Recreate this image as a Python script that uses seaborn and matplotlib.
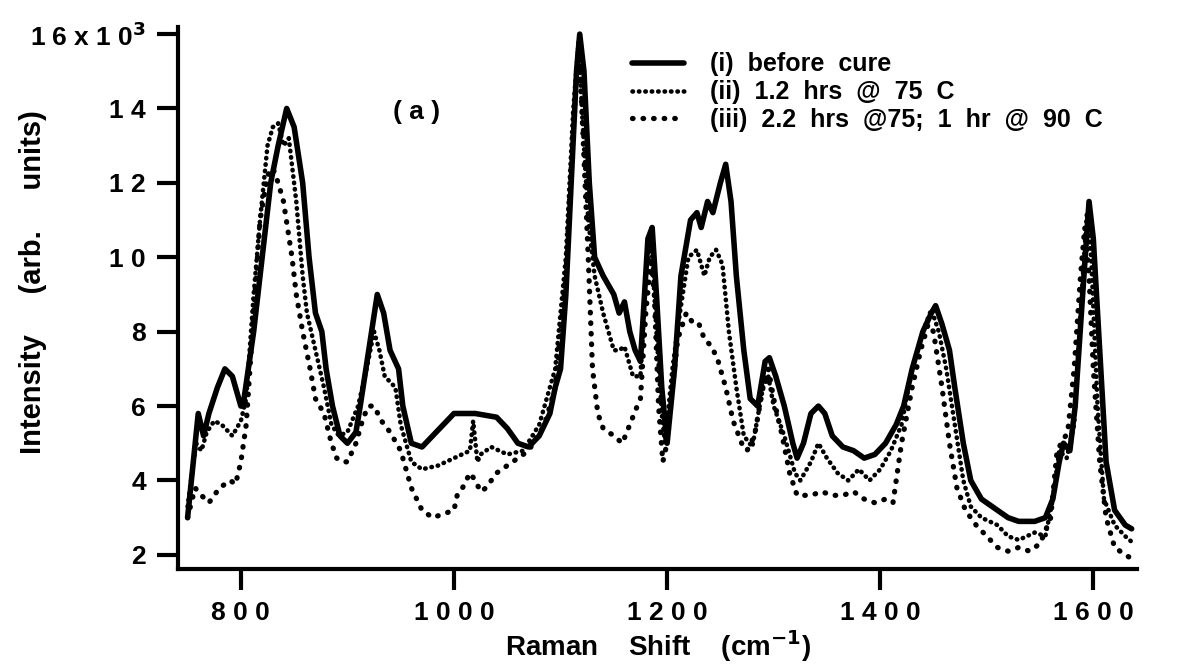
import matplotlib
matplotlib.use("Agg")
import matplotlib.pyplot as plt
import seaborn as sns
import numpy as np

# ---- data (Raman shift cm^-1, intensity in 10^3 arb. units) ----
x_i = [750, 760, 765, 770, 778, 785, 792, 800, 802, 812, 820, 828, 835, 843, 850, 858, 864, 870, 876, 880,
       886, 893, 900, 908, 912, 920, 928, 934, 940, 948, 952, 960, 970, 980, 990, 1000, 1020, 1040, 1050,
       1060, 1070, 1080, 1090, 1095, 1100, 1105, 1110, 1115, 1118, 1122, 1127, 1132, 1140, 1150, 1155,
       1160, 1165, 1170, 1175, 1182, 1186, 1190, 1195, 1200, 1207, 1213, 1222, 1228, 1232, 1238, 1243,
       1250, 1255, 1260, 1265, 1272, 1278, 1285, 1292, 1296, 1302, 1310, 1318, 1322, 1328, 1335, 1342,
       1348, 1355, 1365, 1375, 1385, 1395, 1405, 1415, 1422, 1430, 1440, 1448, 1452, 1458, 1465, 1470,
       1478, 1485, 1495, 1510, 1520, 1530, 1545, 1555, 1562, 1568, 1572, 1578, 1583, 1590, 1596, 1600,
       1606, 1612, 1620, 1630, 1636]
y_i = [3.0, 5.8, 5.2, 5.8, 6.5, 7.0, 6.8, 6.0, 6.0, 8.0, 10.0, 12.0, 13.0, 14.0, 13.5, 12.0, 10.0, 8.5, 8.0, 7.0,
       6.0, 5.2, 5.0, 5.3, 6.0, 7.5, 9.0, 8.5, 7.5, 7.0, 6.0, 5.0, 4.9, 5.2, 5.5, 5.8, 5.8, 5.7, 5.4,
       5.0, 4.9, 5.2, 5.8, 6.5, 7.0, 9.0, 12.0, 15.0, 16.0, 15.0, 12.0, 10.0, 9.5, 9.0, 8.5,
       8.8, 8.0, 7.5, 7.2, 10.5, 10.8, 9.0, 6.5, 5.0, 7.0, 9.5, 11.0, 11.2, 10.8, 11.5, 11.2,
       12.0, 12.5, 11.5, 9.5, 7.5, 6.2, 6.0, 7.2, 7.3, 6.8, 6.0, 5.0, 4.6, 5.0, 5.8, 6.0,
       5.8, 5.2, 4.9, 4.8, 4.6, 4.7, 5.0, 5.5, 6.0, 7.0, 8.0, 8.5, 8.7, 8.2, 7.5, 6.5,
       5.0, 4.0, 3.5, 3.2, 3.0, 2.9, 2.9, 3.0, 3.5, 4.5, 5.0, 4.8, 6.0, 9.0, 11.5, 10.5,
       7.5, 4.5, 3.2, 2.8, 2.7]

x_ii = [750, 758, 763, 768, 775, 782, 792, 800, 805, 812, 818, 825, 830, 835, 840, 845, 852, 858, 862, 870,
        878, 885, 892, 900, 910, 918, 925, 930, 935, 945, 950, 960, 970, 985, 1000, 1015, 1018, 1022, 1025,
        1035, 1050, 1065, 1080, 1095, 1105, 1112, 1117, 1120, 1126, 1132, 1140, 1150, 1155, 1160, 1168,
        1175, 1180, 1185, 1190, 1195, 1198, 1205, 1212, 1220, 1228, 1235, 1240, 1246, 1252, 1258, 1265,
        1272, 1280, 1290, 1295, 1300, 1310, 1320, 1325, 1335, 1342, 1350, 1360, 1370, 1380, 1390, 1400,
        1410, 1420, 1430, 1440, 1448, 1455, 1462, 1470, 1478, 1485, 1495, 1510, 1520, 1530, 1545, 1555,
        1562, 1568, 1575, 1582, 1588, 1594, 1598, 1604, 1610, 1620, 1630, 1638]
y_ii = [3.3, 5.0, 4.8, 5.3, 5.6, 5.5, 5.2, 5.6, 6.2, 9.0, 11.0, 13.0, 13.5, 13.6, 13.0, 13.2, 11.5, 9.5, 8.5, 7.5,
        6.5, 5.5, 5.2, 5.3, 6.0, 7.0, 8.0, 7.5, 6.8, 6.5, 5.5, 4.5, 4.3, 4.4, 4.6, 4.8, 5.6, 4.5, 4.7,
        4.9, 4.7, 4.8, 5.5, 7.0, 10.0, 14.0, 15.8, 14.0, 11.0, 9.5, 8.5, 7.5, 7.5, 7.6, 6.8,
        6.8, 9.5, 10.6, 8.0, 5.8, 5.0, 7.0, 8.5, 10.0, 10.2, 9.5, 10.0, 10.2, 9.8, 8.0, 6.5,
        5.2, 4.9, 6.5, 6.8, 6.0, 5.2, 4.2, 4.0, 4.5, 5.0, 4.6, 4.2, 4.0, 4.3, 4.0, 4.3,
        4.8, 5.5, 7.0, 8.0, 8.6, 8.0, 7.0, 5.5, 4.0, 3.3, 3.0, 2.8, 2.5, 2.4, 2.6, 2.5,
        3.5, 4.8, 4.6, 5.5, 8.5, 11.2, 10.0, 6.0, 3.5, 2.8, 2.5, 2.3]

x_iii = [750, 757, 763, 770, 780, 790, 795, 800, 805, 812, 818, 825, 830, 835, 840, 848, 852, 858, 865, 870,
         878, 885, 890, 895, 900, 908, 915, 920, 925, 932, 940, 950, 960, 970, 980, 990, 1000, 1003, 1008,
         1015, 1020, 1025, 1030, 1040, 1055, 1070, 1085, 1095, 1105, 1112, 1117, 1120, 1126, 1130, 1135,
         1140, 1150, 1158, 1165, 1172, 1175, 1180, 1185, 1188, 1192, 1196, 1200, 1205, 1210, 1218, 1225,
         1230, 1235, 1242, 1248, 1255, 1262, 1270, 1275, 1282, 1290, 1295, 1300, 1308, 1315, 1322, 1335,
         1345, 1355, 1365, 1375, 1385, 1395, 1405, 1412, 1420, 1430, 1438, 1445, 1450, 1458, 1465, 1472,
         1480, 1490, 1500, 1510, 1520, 1530, 1540, 1550, 1560, 1566, 1570, 1576, 1582, 1588, 1592, 1596,
         1600, 1606, 1612, 1620, 1630, 1636]
y_iii = [3.0, 3.8, 3.6, 3.4, 3.8, 4.0, 3.9, 4.5, 5.5, 8.5, 11.0, 12.2, 12.4, 12.0, 11.5, 10.0, 9.0, 8.0, 7.0, 6.2,
         5.8, 5.0, 4.6, 4.5, 4.5, 5.0, 5.7, 6.0, 6.0, 5.6, 5.3, 4.8, 3.8, 3.2, 3.0, 3.1, 3.2, 3.6, 3.8,
         4.2, 4.0, 3.7, 3.8, 4.2, 4.5, 4.8, 5.5, 6.5, 9.5, 13.5, 15.7, 14.0, 10.0, 7.0, 5.8,
         5.4, 5.2, 5.0, 5.5, 6.0, 6.2, 8.5, 10.0, 9.0, 6.0, 4.5, 5.0, 6.5, 7.8, 8.5, 8.2,
         8.2, 7.8, 7.6, 7.2, 6.5, 5.6, 5.0, 4.8, 5.2, 6.5, 7.0, 6.2, 5.2, 4.2, 3.6, 3.6,
         3.7, 3.6, 3.6, 3.7, 3.5, 3.4, 3.5, 3.4, 5.0, 6.5, 7.5, 8.2, 8.0, 6.5, 5.0, 3.8,
         3.2, 2.8, 2.5, 2.2, 2.1, 2.2, 2.1, 2.3, 3.0, 4.8, 5.0, 5.3, 7.0, 9.5, 10.8, 9.5,
         7.0, 4.5, 3.0, 2.2, 2.0, 1.9]

series_labels = ["(i)  before  cure",
                 "(ii)  1.2  hrs  @  75  C",
                 "(iii)  2.2  hrs  @75;  1  hr  @  90  C"]

x_ticks = [800, 1000, 1200, 1400, 1600]
x_tick_labels = ["8 0 0", "1 0 0 0", "1 2 0 0", "1 4 0 0", "1 6 0 0"]
y_ticks = [2, 4, 6, 8, 10, 12, 14, 16]
y_tick_labels = ["2", "4", "6", "8", "1 0", "1 2", "1 4", "1 6 x 1 0$^{3}$"]

# ---- style ----
sns.set_style("ticks")
plt.rcParams["font.family"] = ["Liberation Sans", "DejaVu Sans"]
plt.rcParams["font.weight"] = "bold"
plt.rcParams["mathtext.default"] = "bf"
for k in ["text.color", "axes.labelcolor", "xtick.color", "ytick.color", "axes.edgecolor"]:
    plt.rcParams[k] = "black"

fig = plt.figure(figsize=(11.99, 6.69), dpi=100)
ax = fig.add_axes([178 / 1199, 1 - 569 / 669, (1137 - 178) / 1199, (569 - 27) / 669])

sns.lineplot(x=x_i, y=y_i, ax=ax, color="black", lw=4.0, solid_joinstyle="round",
             label=series_labels[0])
sns.lineplot(x=x_ii, y=y_ii, ax=ax, color="black", lw=3.3, linestyle=(0, (0.1, 1.3)),
             dash_capstyle="round", label=series_labels[1])
sns.lineplot(x=x_iii, y=y_iii, ax=ax, color="black", lw=3.8, linestyle=(0, (0.1, 1.9)),
             dash_capstyle="round", label=series_labels[2])

ax.set_xlim(741, 1641)
ax.set_ylim(1.62, 16.19)
ax.set_xticks(x_ticks)
ax.set_xticklabels(x_tick_labels)
ax.set_yticks(y_ticks)
ax.set_yticklabels(y_tick_labels)

for s in ["left", "bottom"]:
    ax.spines[s].set_linewidth(3.0)
for s in ["top", "right"]:
    ax.spines[s].set_visible(False)
ax.tick_params(axis="both", direction="out", length=15, width=3.0, labelsize=19, pad=8)
for lab in ax.get_xticklabels() + ax.get_yticklabels():
    lab.set_fontweight("bold")

ax.set_xlabel("Raman    Shift    (cm$^{-1}$)", fontsize=20, fontweight="bold", labelpad=2)
ax.set_ylabel("Intensity     (arb.     units)", fontsize=21, fontweight="bold")
ax.yaxis.set_label_coords(-0.137, 0.53)

ax.text(965, 13.9, "( a )", fontsize=19, fontweight="bold", ha="center", va="center")

leg = ax.legend(loc="upper left", bbox_to_anchor=(619 / 1199, 1 - 40 / 669),
                bbox_transform=fig.transFigure, frameon=False, fontsize=18,
                handlelength=2.1, handletextpad=1.05, labelspacing=0.15, borderpad=0)
for t in leg.get_texts():
    t.set_fontweight("bold")

fig.savefig("out.png", dpi=100)
